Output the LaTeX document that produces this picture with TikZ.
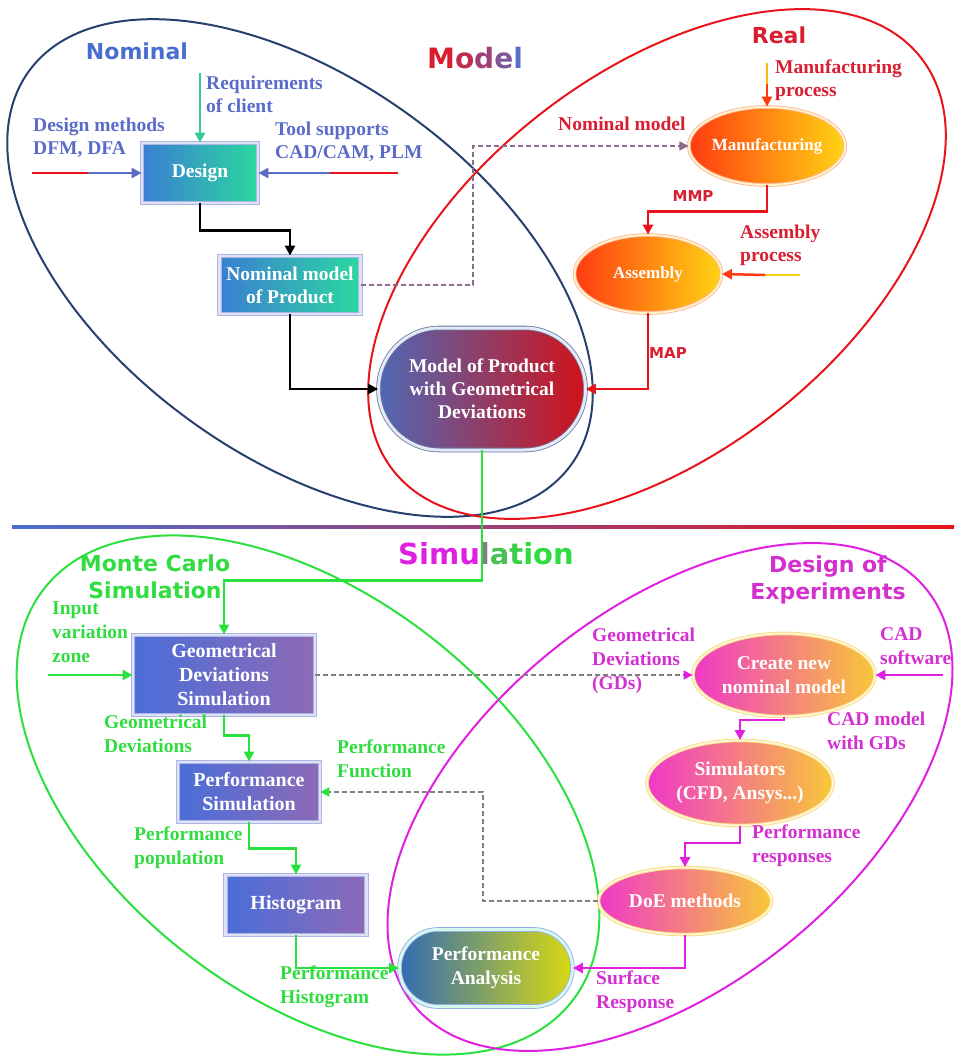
\documentclass[tikz,border=0pt]{standalone}
\usepackage{fontspec}
\setmainfont{Liberation Serif}
\newfontfamily\headfont{DejaVu Sans}
\usetikzlibrary{arrows.meta,shapes.geometric,shapes.misc}

\definecolor{navyline}{HTML}{28406E}
\definecolor{realred}{HTML}{E8141C}
\definecolor{mcgreen}{HTML}{2AE03C}
\definecolor{doemag}{HTML}{E020E0}
\definecolor{nomblue}{HTML}{4A6ED0}
\definecolor{lblblue}{HTML}{5A6CC8}
\definecolor{lblred}{HTML}{D81E30}
\definecolor{lblgreen}{HTML}{30DC40}
\definecolor{lblmag}{HTML}{D430D0}
\definecolor{tealL}{HTML}{3A7ED2}
\definecolor{tealR}{HTML}{2CD8A0}
\definecolor{violL}{HTML}{4A6ED8}
\definecolor{violR}{HTML}{8E6AB6}
\definecolor{fireL}{HTML}{FF3A10}
\definecolor{fireR}{HTML}{FFD414}
\definecolor{pinkL}{HTML}{F038C8}
\definecolor{pinkR}{HTML}{F8C838}
\definecolor{reqteal}{HTML}{38C8A0}
\definecolor{dashgray}{HTML}{8A6A86}

\begin{document}
\begin{tikzpicture}[x=1pt,y=-1pt,
  lbl/.style={font=\bfseries\fontsize{19.5}{23}\selectfont,align=left,anchor=north west,inner sep=0pt},
  blbl/.style={lbl,font=\bfseries\fontsize{19.5}{24}\selectfont},
  head/.style={font=\headfont\bfseries\fontsize{22}{27}\selectfont,align=center,inner sep=0pt},
  tag/.style={font=\headfont\bfseries\fontsize{15}{18}\selectfont,inner sep=0pt},
  white text/.style={text=white,align=center,inner sep=0pt},
  tealbox/.style={rectangle,white text,draw=lblblue!50,double=lblblue!20,double distance=2.5pt,line width=0.8pt,
    left color=tealL,right color=tealR,font=\bfseries\fontsize{19.5}{23}\selectfont},
  violbox/.style={tealbox,left color=violL,right color=violR,font=\bfseries\fontsize{20}{24}\selectfont},
  fireoval/.style={ellipse,white text,draw=fireL!40,double=fireR!25,double distance=2pt,line width=0.8pt,
    left color=fireL,right color=fireR,font=\bfseries\fontsize{17}{22}\selectfont},
  pinkoval/.style={fireoval,draw=pinkR!70,double=pinkR!20,left color=pinkL,right color=pinkR,font=\bfseries\fontsize{19.5}{24}\selectfont},
  arr/.style={-{Triangle[length=10pt,width=10pt]},line width=2.5pt},
  dasharr/.style={-{Triangle[length=9pt,width=9pt]},line width=1.6pt,dashed,dash pattern=on 5pt off 3pt}]

\useasboundingbox (0,0) rectangle (954,1057);

% the four regions
\draw[navyline,line width=2pt,rotate around={-36:(300,268)}] (300,268) ellipse [x radius=335,y radius=188];
\draw[realred,line width=2pt,rotate around={38:(657,264)}] (657,264) ellipse [x radius=335,y radius=190];
\draw[mcgreen,line width=2pt,rotate around={-38:(308,795)}] (308,795) ellipse [x radius=335,y radius=200];
\draw[doemag,line width=2pt,rotate around={39:(670,797)}] (670,797) ellipse [x radius=330,y radius=188];
\shade[left color=nomblue,right color=realred] (12,525) rectangle (954,528);

% titles
\node[head,text=nomblue] (tnom) at (137,51) {Nominal};
\node[head,font=\headfont\bfseries\fontsize{28}{32}\selectfont] (tmodel) at (475,58)
  {\textcolor{lblred}{M}\textcolor{lblred!80!lblblue}{o}\textcolor{lblred!55!lblblue}{d}\textcolor{lblred!30!lblblue}{e}\textcolor{lblblue}{l}};
\node[head,text=lblred] (treal) at (779,35) {Real};
\node[head,font=\headfont\bfseries\fontsize{29}{32}\selectfont] (tsim) at (486,554)
  {\textcolor{doemag}{Simu}\textcolor{gray}{l}\textcolor{lblgreen!70!gray}{a}\textcolor{lblgreen!85!gray}{t}\textcolor{lblgreen}{ion}};
\node[head,text=lblgreen] (tmc) at (155,577) {Monte Carlo\\Simulation};
\node[head,text=lblmag] (tdoe) at (828,580) {Design of\\Experiments};

% model part
\node[tealbox,minimum width=116,minimum height=60] (design) at (200,173) {Design};
\node[tealbox,minimum width=141,minimum height=58] (nommod) at (290,285) {Nominal model\\of Product};
\node[rounded rectangle,white text,draw=navyline!70,double=white!85!violL,double distance=3pt,line width=0.8pt,
  left color=violL!80!black!90,right color=realred!90!black,font=\bfseries\fontsize{19.5}{23}\selectfont,
  minimum width=207,minimum height=122] (modgd) at (482,389) {Model of Product\\with Geometrical\\Deviations};
\node[fireoval,minimum width=153,minimum height=78] (manuf) at (767,146) {Manufacturing};
\node[fireoval,minimum width=147,minimum height=78] (assem) at (648,274) {Assembly};

% simulation part
\node[violbox,minimum width=182,minimum height=80] (gdsim) at (224,675) {Geometrical\\Deviations\\Simulation};
\node[violbox,minimum width=142,minimum height=60] (perfsim) at (249,792) {Performance\\Simulation};
\node[violbox,minimum width=141,minimum height=60] (histo) at (296,905) {Histogram};
\node[rounded rectangle,white text,draw=violL!60,double=white!80!tealR,double distance=3pt,line width=0.8pt,
  left color=tealL!85!black,right color=fireR!85!green,font=\bfseries\fontsize{19.5}{24}\selectfont,
  minimum width=173,minimum height=77] (perfan) at (486,968) {Performance\\Analysis};
\node[pinkoval,minimum width=182,minimum height=83] (create) at (784,675) {Create new\\nominal model};
\node[pinkoval,minimum width=186,minimum height=85] (simul) at (740,783) {Simulators\\(CFD, Ansys...)};
\node[pinkoval,minimum width=173,minimum height=67] (doe) at (685,901) {DoE methods};

% free ends
\coordinate (reqstart) at (200,73);
\coordinate (dmstart) at (32,173);
\coordinate (dmmid) at (88,173);
\coordinate (tsstart) at (398,173);
\coordinate (tsmid) at (330,173);
\coordinate (mpstart) at (767,63);
\coordinate (mpmid) at (767,84);
\coordinate (apstart) at (800,275);
\coordinate (apmid) at (765,275);
\coordinate (ivstart) at (48,675);
\coordinate (cadstart) at (943,675);

% labels
\node[lbl,text=lblblue] (lreq) at (206,76) {Requirements\\of client};
\node[lbl,text=lblblue] (ldm) at (33,118) {Design methods\\DFM, DFA};
\node[lbl,text=lblblue] (lts) at (275,122) {Tool supports\\CAD/CAM, PLM};
\node[lbl,text=lblred] (lnm) at (558,117) {Nominal model};
\node[lbl,text=lblred] (lmp) at (775,60) {Manufacturing\\process};
\node[tag,text=lblred] (lmmp) at (693,196) {MMP};
\node[lbl,text=lblred] (lap) at (740,225) {Assembly\\process};
\node[tag,text=lblred] (lmap) at (668,353) {MAP};
\node[blbl,text=lblgreen] (liv) at (52,602) {Input\\variation\\zone};
\node[blbl,text=lblgreen] (lgd) at (104,715) {Geometrical\\Deviations};
\node[blbl,text=lblgreen] (lpf) at (337,740) {Performance\\Function};
\node[blbl,text=lblgreen] (lpp) at (134,827) {Performance\\population};
\node[blbl,text=lblgreen] (lph) at (280,966) {Performance\\Histogram};
\node[blbl,text=lblmag] (lgds) at (592,628) {Geometrical\\Deviations\\(GDs)};
\node[blbl,text=lblmag] (lcad) at (880,627) {CAD\\software};
\node[blbl,text=lblmag] (lcgd) at (827,712) {CAD model\\with GDs};
\node[blbl,text=lblmag] (lpr) at (752,825) {Performance\\responses};
\node[blbl,text=lblmag] (lsr) at (596,971) {Surface\\Response};

% connectors of the model part
\draw[arr,reqteal] (reqstart) -- (design.north);
\draw[line width=2.5pt,realred] (dmstart) -- (dmmid);
\draw[arr,lblblue] (dmmid) -- (design.west);
\draw[line width=2.5pt,realred] (tsstart) -- (tsmid);
\draw[arr,lblblue] (tsmid) -- (design.east);
\draw[arr,black] (design.south) -- ++(0,27) -| (nommod.north);
\draw[arr,black] (nommod.south) |- (modgd.west);
\draw[dasharr,dashgray] (nommod.east) -- ++(112,0) |- (manuf.west);
\draw[line width=2.5pt,fireR!80!fireL] (mpstart) -- (mpmid);
\draw[arr,fireL] (mpmid) -- (manuf.north);
\draw[arr,realred] (manuf.south) -- ++(0,26) -| (assem.north);
\draw[line width=2.5pt,fireR] (apstart) -- (apmid);
\draw[arr,fireL] (apmid) -- (assem.east);
\draw[arr,realred] (assem.south) |- (modgd.east);

% connectors of the simulation part
\draw[arr,mcgreen] (modgd.south) -- ++(0,130) -| (gdsim.north);
\draw[arr,mcgreen] (ivstart) -- (gdsim.west);
\draw[arr,mcgreen] (gdsim.south) -- ++(0,20) -| (perfsim.north);
\draw[arr,mcgreen] (perfsim.south) -- ++(0,26) -| (histo.north);
\draw[arr,mcgreen] (histo.south) |- (perfan.west);
\draw[dasharr,gray,-{Triangle[length=9pt,width=9pt,color=doemag]}] (gdsim.east) -- (create.west);
\draw[arr,doemag] (cadstart) -- (create.east);
\draw[arr,doemag] (create.south) -- ++(0,3) -| (simul.north);
\draw[arr,doemag] (simul.south) -- ++(0,17) -| (doe.north);
\draw[arr,doemag] (doe.south) |- (perfan.east);
\draw[dasharr,gray,-{Triangle[length=9pt,width=9pt,color=mcgreen]}] (doe.west) -- ++(-115,0) |- (perfsim.east);
\end{tikzpicture}
\end{document}
